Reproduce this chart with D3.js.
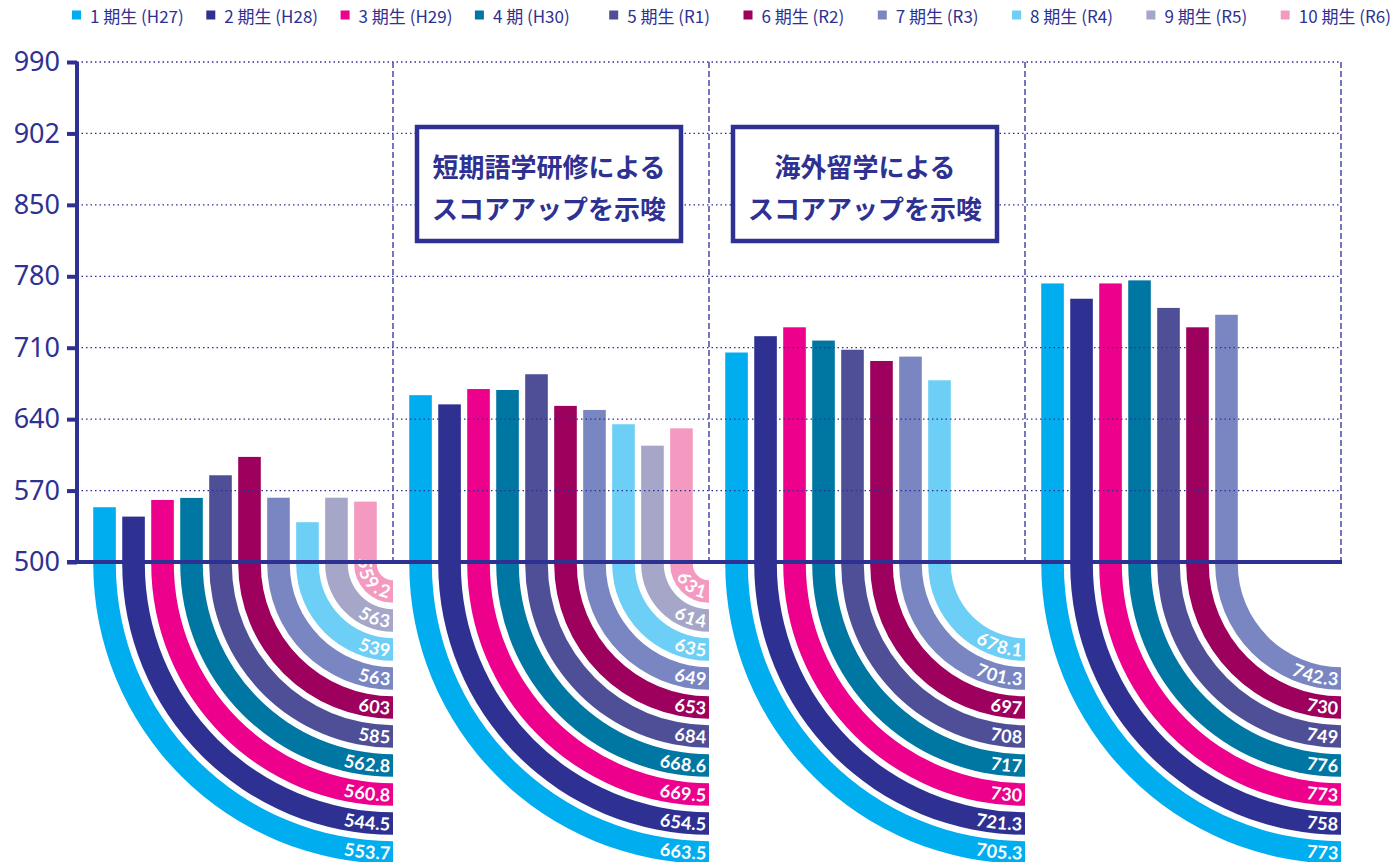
<!DOCTYPE html>
<html>
<head>
<meta charset="utf-8">
<script src="https://cdn.jsdelivr.net/npm/d3@7"></script>
<style>
  body { margin: 0; background: #fff; }
  svg { display: block; }
</style>
</head>
<body>
<div id="chart"></div>
<script>
// series (cohorts) and their colours
const series = ['1 期生 (H27)', '2 期生 (H28)', '3 期生 (H29)', '4 期 (H30)', '5 期生 (R1)',
  '6 期生 (R2)', '7 期生 (R3)', '8 期生 (R4)', '9 期生 (R5)', '10 期生 (R6)'];
const colors = ['#00aeef', '#2e3192', '#ec008c', '#0076a3', '#4f4f98',
  '#9e005d', '#7a86c2', '#6dcff6', '#a5a6c8', '#f49ac1'];

// four measurement groups (no axis label in the original)
const groups = ['G1', 'G2', 'G3', 'G4'];
const group1 = [553.7, 544.5, 560.8, 562.8, 585, 603, 563, 539, 563, 559.2];
const group2 = [663.5, 654.5, 669.5, 668.6, 684, 653, 649, 635, 614, 631];
const group3 = [705.3, 721.3, 730, 717, 708, 697, 701.3, 678.1, null, null];
const group4 = [773, 758, 773, 776, 749, 730, 742.3, null, null, null];
const groupValues = [group1, group2, group3, group4];

// y ticks are evenly spaced on the page even though the steps differ
const yTicks = [500, 570, 640, 710, 780, 850, 902, 990];

const notes = [
  { group: 'G2', lines: ['短期語学研修による', 'スコアアップを示唆'] },
  { group: 'G3', lines: ['海外留学による', 'スコアアップを示唆'] }
];

const W = 1395, H = 862;
const plotLeft = 77, plotRight = 1341, plotTop = 62, base = 562;
const navy = '#2e3192';

const svg = d3.select('#chart').append('svg')
  .attr('width', W)
  .attr('height', H);

const step = (base - plotTop) / (yTicks.length - 1);
const y = d3.scaleLinear()
  .domain(yTicks)
  .range(yTicks.map((d, i) => base - i * step));

const x0 = d3.scaleBand()
  .domain(groups)
  .range([plotLeft, plotRight]);

const x1 = d3.scaleBand()
  .domain(d3.range(series.length))
  .range([0, x0.bandwidth()])
  .paddingInner(0.22)
  .paddingOuter(0.56);

const bw = x1.bandwidth();
const cyOff = 2; // arcs start just below the base line

// marks
const barLayer = svg.append('g');
const overLayer = svg.append('g');

const arc = d3.arc();

groups.forEach((g, gi) => {
  const gx = x0(g);
  const cx = gx + x0.bandwidth();
  const cy = base + cyOff;
  const items = groupValues[gi]
    .map((v, i) => ({ v, i }))
    .filter(d => d.v != null);

  const grp = barLayer.append('g');

  items.forEach(d => {
    const xl = gx + x1(d.i);
    const rOuter = cx - xl;
    const rInner = rOuter - bw;
    const rMid = (rOuter + rInner) / 2;

    // bar above the base line
    grp.append('rect')
      .attr('x', xl)
      .attr('y', y(d.v))
      .attr('width', bw)
      .attr('height', cy - y(d.v) + 0.5)
      .attr('fill', colors[d.i]);

    // quarter ring below
    grp.append('path')
      .attr('transform', `translate(${cx},${cy})`)
      .attr('d', arc({ innerRadius: rInner, outerRadius: rOuter, startAngle: Math.PI, endAngle: Math.PI * 1.5 }))
      .attr('fill', colors[d.i]);

    // label path: short vertical lead-in, then the quarter arc
    const lead = 40;
    const pid = `lp-${gi}-${d.i}`;
    grp.append('path')
      .attr('id', pid)
      .attr('fill', 'none')
      .attr('d', `M${cx - rMid},${cy - lead} L${cx - rMid},${cy} A${rMid},${rMid} 0 0 0 ${cx},${cy + rMid}`);

    const len = lead + Math.PI / 2 * rMid;
    grp.append('text')
      .attr('fill', '#fff')
      .style('font-family', 'Lato, "Open Sans", sans-serif')
      .style('font-weight', 700)
      .style('font-size', '18px')
      .append('textPath')
      .attr('href', `#${pid}`)
      .attr('startOffset', len - 3)
      .attr('text-anchor', 'end')
      .attr('dominant-baseline', 'central')
      .text(d3.format('~f')(d.v));
  });
});

// horizontal dotted grid lines (above the bars)
overLayer.selectAll('line.grid')
  .data(yTicks.slice(1))
  .join('line')
  .attr('class', 'grid')
  .attr('x1', plotLeft)
  .attr('x2', plotRight)
  .attr('y1', d => y(d))
  .attr('y2', d => y(d))
  .attr('stroke', navy)
  .attr('stroke-width', 1.3)
  .attr('stroke-dasharray', '1.5,3');

// dashed group separators
overLayer.selectAll('line.sep')
  .data(groups)
  .join('line')
  .attr('class', 'sep')
  .attr('x1', d => x0(d) + x0.bandwidth())
  .attr('x2', d => x0(d) + x0.bandwidth())
  .attr('y1', plotTop)
  .attr('y2', base)
  .attr('stroke', '#4a4aa6')
  .attr('stroke-width', 1.5)
  .attr('stroke-dasharray', '6,3');

// base line
overLayer.append('line')
  .attr('x1', plotLeft - 10)
  .attr('x2', plotRight + 1)
  .attr('y1', base)
  .attr('y2', base)
  .attr('stroke', navy)
  .attr('stroke-width', 4);

// y axis
const yAxis = overLayer.append('g')
  .attr('transform', `translate(${plotLeft},0)`)
  .call(d3.axisLeft(y).tickValues(yTicks).tickSize(10).tickPadding(7));

yAxis.select('.domain')
  .attr('stroke', navy)
  .attr('stroke-width', 4)
  .attr('d', `M0,${plotTop}V${base}`);
yAxis.selectAll('.tick line')
  .attr('stroke', navy)
  .attr('stroke-width', 4);
yAxis.selectAll('.tick text')
  .attr('fill', navy)
  .style('font-family', '"Noto Sans", "Open Sans", sans-serif')
  .style('font-size', '27px');

// annotation boxes
const boxW = 264, boxH = 114;
notes.forEach(n => {
  const bx = x0(n.group) + 24;
  const by = 127;
  const g = overLayer.append('g');
  g.append('rect')
    .attr('x', bx)
    .attr('y', by)
    .attr('width', boxW)
    .attr('height', boxH)
    .attr('fill', '#fff')
    .attr('stroke', navy)
    .attr('stroke-width', 4.5);
  g.selectAll('text')
    .data(n.lines)
    .join('text')
    .attr('x', bx + boxW / 2)
    .attr('y', (d, i) => by + 38 + i * 42)
    .attr('text-anchor', 'middle')
    .attr('dominant-baseline', 'central')
    .attr('fill', navy)
    .style('font-family', '"Noto Sans CJK JP", sans-serif')
    .style('font-weight', 700)
    .style('font-size', '26px')
    .text(d => d);
});

// legend
const legend = svg.append('g')
  .attr('transform', 'translate(72,15)');

const items = legend.selectAll('g')
  .data(series)
  .join('g')
  .attr('transform', (d, i) => `translate(${i * 134.3},0)`);

items.append('rect')
  .attr('x', 0)
  .attr('y', -4.5)
  .attr('width', 9)
  .attr('height', 9)
  .attr('fill', (d, i) => colors[i]);

items.append('text')
  .attr('x', 18)
  .attr('y', 0)
  .attr('dominant-baseline', 'central')
  .attr('fill', navy)
  .style('font-family', '"Noto Sans CJK JP", sans-serif')
  .style('font-size', '17px')
  .text(d => d);
</script>
</body>
</html>
